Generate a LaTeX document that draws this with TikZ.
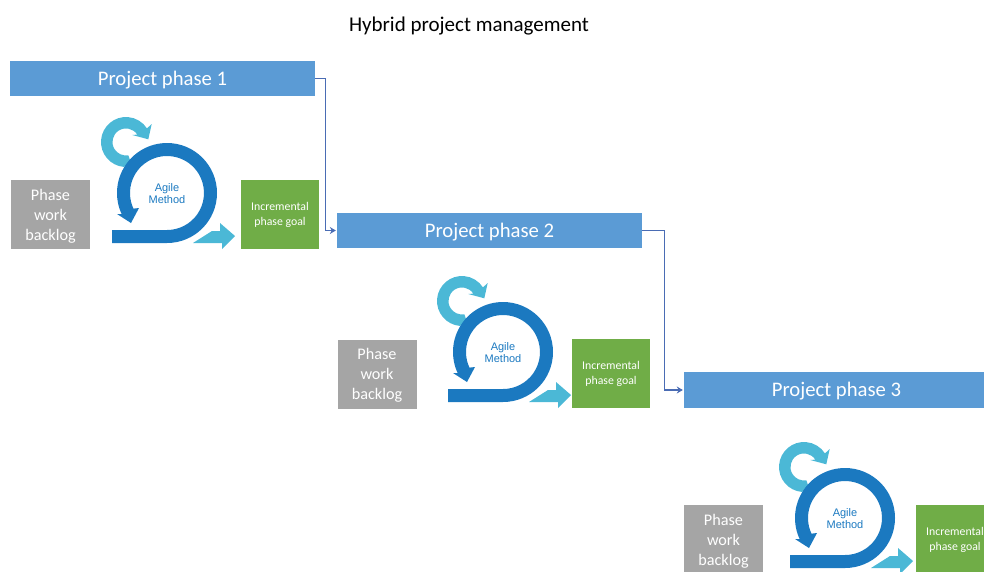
\documentclass[tikz,border=0pt]{standalone}
\usepackage{fontspec}
\setmainfont{Carlito}
\newfontfamily\agilefont{Liberation Sans}
\usetikzlibrary{arrows.meta}
\definecolor{barblue}{HTML}{5B9BD5}
\definecolor{backloggray}{HTML}{A5A5A5}
\definecolor{goalgreen}{HTML}{70AD47}
\definecolor{ringblue}{HTML}{1B79C0}
\definecolor{loopblue}{HTML}{4BB8D6}
\definecolor{linkblue}{HTML}{4A6CB4}
\tikzset{
  phasebar/.style={fill=barblue, text=white, minimum width=305pt, minimum height=35.5pt, inner sep=0pt, text height=14.5pt, text depth=1.5pt, font=\fontsize{20.7}{22}\selectfont},
  backlogbox/.style={fill=backloggray, text=white, minimum width=79pt, minimum height=69pt, inner sep=0pt, align=center, text depth=-2.6pt, font=\fontsize{16.2}{20}\selectfont},
  goalbox/.style={fill=goalgreen, text=white, minimum width=78pt, minimum height=69pt, inner sep=0pt, align=center, text depth=0.5pt, font=\fontsize{11.8}{15}\selectfont},
  link/.style={draw=linkblue, line width=1.1pt, shorten >=1pt, -{Stealth[length=6pt,width=7pt]}},
  agile/.pic={
    % small loop
    \fill[loopblue] (-41,51) ++(265:25) arc[start angle=265, end angle=33, radius=25] -- (-15.3,69) -- (-18.7,53.7) -- (-34.7,58) -- (-29.7,58.4) arc[start angle=33, end angle=280, radius=13.5] -- (-36,30) -- cycle;
    % big ring
    \fill[ringblue] (-55,-50) -- (0,-50) arc[start angle=270, end angle=565, radius=50] -- (-50,-21) -- (-36,-30) -- (-28,-15) -- (205:37) arc[start angle=205, end angle=-90, radius=37] -- (-55,-37) -- cycle;
    % exit arrow
    \fill[loopblue] (26,-50) -- (45,-38) -- (53,-38) -- (53,-30) -- (68,-43) -- (55,-56) -- (55,-50) -- cycle;
    \node[text=ringblue, align=center, inner sep=0pt, font=\agilefont\fontsize{11}{12}\selectfont] (-label) at (0,-1) {Agile\\Method};
  }
}
\begin{document}
\begin{tikzpicture}[x=1pt, y=1pt]
  \useasboundingbox (0,0) rectangle (984,-571);
  \node[inner sep=0pt, font=\fontsize{21}{22}\selectfont] (title) at (469,-26) {Hybrid project management};
  % first phase
  \node[phasebar] (phase1) at (162.5,-78.5) {Project phase 1};
  \node[backlogbox] (backlog1) at (50.5,-214.5) {Phase\\work\\backlog};
  \node[goalbox] (goal1) at (280,-214.5) {Incremental\\phase goal};
  \pic (agile1) at (167,-193) {agile};
  % second phase
  \node[phasebar] (phase2) at (489.5,-230.5) {Project phase 2};
  \node[backlogbox] (backlog2) at (377,-374) {Phase\\work\\backlog};
  \node[goalbox] (goal2) at (611,-373.5) {Incremental\\phase goal};
  \pic (agile2) at (503,-352) {agile};
  % third phase
  \node[phasebar] (phase3) at (836.5,-390) {Project phase 3};
  \node[backlogbox] (backlog3) at (723.5,-539.5) {Phase\\work\\backlog};
  \node[goalbox] (goal3) at (955,-539.5) {Incremental\\phase goal};
  \pic (agile3) at (845,-518) {agile};
  % links between phases
  \draw[link] (phase1.east) -- ++(10.5,0) |- (phase2.west);
  \draw[link] (phase2.east) -- ++(22,0) |- (phase3.west);
\end{tikzpicture}
\end{document}
